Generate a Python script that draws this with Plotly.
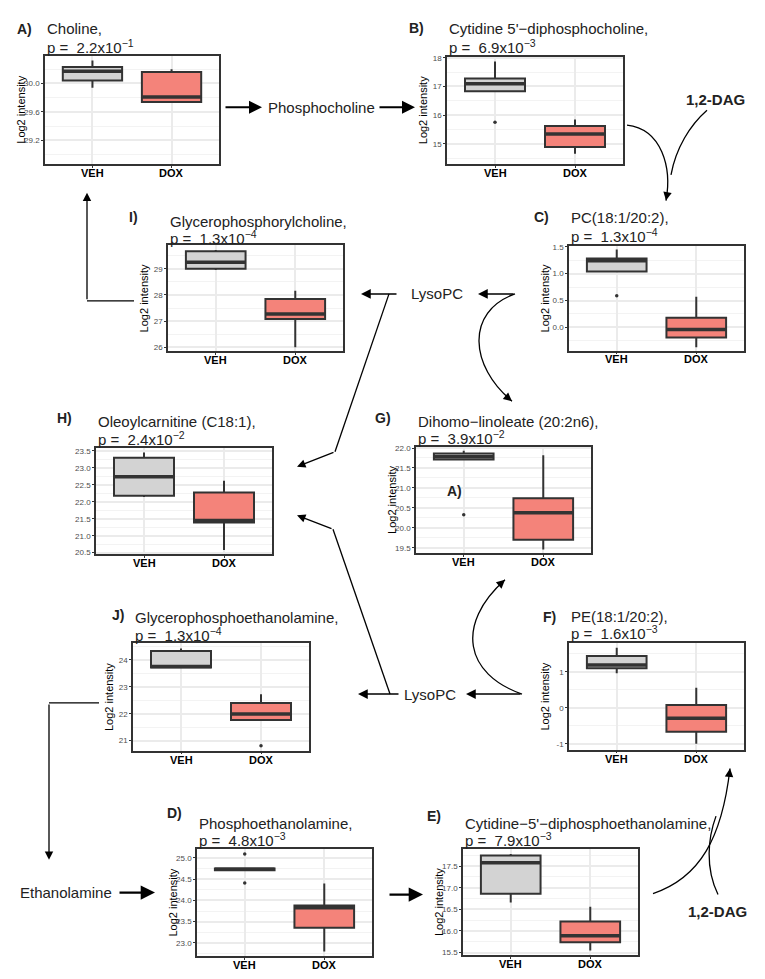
import plotly.graph_objects as go

W, H = 765, 979

# ---------------- data ----------------
groups = ["VEH", "DOX"]
tags = ["A)", "B)", "C)", "I)", "H)", "G)", "J)", "F)", "D)", "E)"]
metabolites = ["Choline,", "Cytidine 5'\u2212diphosphocholine,", "PC(18:1/20:2),",
               "Glycerophosphorylcholine,", "Oleoylcarnitine (C18:1),",
               "Dihomo\u2212linoleate (20:2n6),", "Glycerophosphoethanolamine,",
               "PE(18:1/20:2),", "Phosphoethanolamine,",
               "Cytidine\u22125'\u2212diphosphoethanolamine,"]
p_mant = [2.2, 6.9, 1.3, 1.3, 2.4, 3.9, 1.3, 1.6, 4.8, 7.9]
p_exp = [-1, -3, -4, -4, -2, -2, -4, -3, -3, -3]

veh_q1 = [30.04, 16.83, 1.04, 29.00, 22.18, 21.71, 23.72, 1.10, 24.71, 16.86]
veh_med = [30.17, 17.09, 1.24, 29.25, 22.74, 21.78, 23.75, 1.19, 24.73, 17.58]
veh_q3 = [30.23, 17.28, 1.28, 29.67, 23.30, 21.86, 24.33, 1.44, 24.75, 17.75]
veh_lo = [29.94, 16.83, 1.04, 28.95, 22.14, 21.71, 23.70, 0.96, 24.71, 16.66]
veh_hi = [30.32, 17.87, 1.45, 29.72, 23.45, 21.93, 24.42, 1.67, 24.75, 17.78]
veh_out = [[], [15.75], [0.59], [], [], [20.33], [], [], [25.09, 24.41], []]

dox_q1 = [29.74, 14.89, -0.19, 27.08, 21.39, 19.70, 21.77, -0.66, 23.36, 15.74]
dox_med = [29.81, 15.34, -0.04, 27.27, 21.45, 20.38, 21.99, -0.29, 23.83, 15.89]
dox_q3 = [30.16, 15.62, 0.18, 27.85, 22.27, 20.74, 22.40, 0.08, 23.88, 16.22]
dox_lo = [29.74, 14.65, -0.37, 26.00, 20.58, 19.46, 21.77, -1.00, 22.80, 15.55]
dox_hi = [30.20, 15.85, 0.57, 28.16, 22.62, 21.82, 22.72, 0.56, 24.40, 16.56]
dox_out = [[], [], [], [], [], [], [20.81], [], [], []]

y_ticks = [[29.2, 29.6, 30.0], [15, 16, 17, 18], [0.0, 0.5, 1.0, 1.5], [26, 27, 28, 29],
           [20.5, 21.0, 21.5, 22.0, 22.5, 23.0, 23.5], [19.5, 20.0, 20.5, 21.0, 21.5, 22.0],
           [21, 22, 23, 24], [-1, 0, 1], [23.0, 23.5, 24.0, 24.5, 25.0],
           [15.5, 16.0, 16.5, 17.0, 17.5]]
y_ranges = [[28.87, 30.39], [14.3, 18.04], [-0.43, 1.51], [25.84, 29.9], [20.46, 23.59],
            [19.37, 22.03], [20.63, 24.61], [-1.16, 1.79], [22.69, 25.21], [15.44, 17.9]]

# ---------------- layout (pixels) ----------------
boxes = [(45, 219, 52, 161), (447, 623, 53, 161), (569, 744, 244, 349), (168, 343, 243, 350),
         (96, 272, 447, 554), (416, 591, 446, 553), (133, 309, 644, 752), (569, 744, 644, 751),
         (197, 372, 851, 959), (463, 638, 851, 958)]
tag_pos = [(15, 25), (407, 24), (532, 215), (127, 215), (55, 417), (373, 417),
           (110, 615), (541, 617), (165, 815), (425, 818)]
title_y = [25, 25, 215, 219, 420, 420, 618, 617, 825, 825]
p_y = [43, 43, 233, 235, 438, 437, 635, 633, 842, 842]
no_ytitle = [4]

FONT = "Liberation Sans, Arial, sans-serif"
EDGE = "#333333"
fills = ["#D3D3D3", "#F4837A"]

fig = go.Figure()
annots = []
shapes = []

# invisible overlay axis in pixel units for the pathway drawing (added first, drawn below)
fig.add_trace(go.Scatter(x=[0], y=[0], mode="markers", marker=dict(opacity=0),
                         xaxis="x", yaxis="y", showlegend=False, hoverinfo="skip"))

for i in range(10):
    n = i + 2
    xr, yr = f"x{n}", f"y{n}"
    L, R, T, B = boxes[i]
    stats = [(veh_q1, veh_med, veh_q3, veh_lo, veh_hi, veh_out),
             (dox_q1, dox_med, dox_q3, dox_lo, dox_hi, dox_out)]
    for g, (q1, md, q3, lo, hi, out) in enumerate(stats):
        fig.add_trace(go.Box(x=[g], q1=[q1[i]], median=[md[i]], q3=[q3[i]],
                             lowerfence=[lo[i]], upperfence=[hi[i]],
                             width=0.75, whiskerwidth=0, boxpoints=False,
                             fillcolor=fills[g], line=dict(color=EDGE, width=2),
                             xaxis=xr, yaxis=yr, showlegend=False, hoverinfo="skip"))
        fig.add_trace(go.Scatter(x=[g - 0.375, g + 0.375], y=[md[i], md[i]], mode="lines",
                                 line=dict(color=EDGE, width=3.5), xaxis=xr, yaxis=yr,
                                 showlegend=False, hoverinfo="skip"))
        if out[i]:
            fig.add_trace(go.Scatter(x=[g] * len(out[i]), y=out[i], mode="markers",
                                     marker=dict(color=EDGE, size=3.5), xaxis=xr, yaxis=yr,
                                     showlegend=False, hoverinfo="skip"))
        # category label just under the panel frame
        annots.append(dict(x=g, y=1 - (B + 9) / H, xref=xr, yref="paper",
                           text=f"<b>{groups[g]}</b>", xanchor="center", yanchor="middle",
                           font=dict(size=11, color="black", family=FONT)))

    t = y_ticks[i]
    step = t[1] - t[0]
    minor = [t[0] - step / 2 + k * step for k in range(len(t) + 1)]
    fmt = "{:.1f}" if step < 1 else "{:.0f}"
    fig.update_layout(**{
        f"xaxis{n}": dict(
            domain=[L / W, R / W], anchor=yr, range=[-0.6, 1.6],
            tickvals=[0, 1], showticklabels=False,
            showgrid=True, gridcolor="#EBEBEB", gridwidth=1.5, zeroline=False,
            showline=True, mirror=True, linecolor=EDGE, linewidth=1.5,
            ticks="outside", ticklen=2, tickcolor=EDGE),
        f"yaxis{n}": dict(
            domain=[1 - B / H, 1 - T / H], anchor=xr, range=y_ranges[i],
            tickvals=t, ticktext=[fmt.format(v) for v in t],
            tickfont=dict(size=8, color="#4D4D4D", family=FONT),
            showgrid=True, gridcolor="#EBEBEB", gridwidth=1.5, zeroline=False,
            minor=dict(tickvals=minor, showgrid=True, gridcolor="#F3F3F3", gridwidth=1),
            showline=True, mirror=True, linecolor=EDGE, linewidth=1.5,
            ticks="outside", ticklen=2, tickcolor=EDGE),
    })

    tx, ty = tag_pos[i]
    annots.append(dict(x=tx, y=ty, text=f"<b>{tags[i]}</b>", xanchor="left", yanchor="middle",
                       font=dict(size=14, color="#222", family=FONT)))
    annots.append(dict(x=L, y=title_y[i], text=metabolites[i], xanchor="left", yanchor="middle",
                       font=dict(size=15, color="#222", family=FONT)))
    annots.append(dict(x=L, y=p_y[i],
                       text=f"p =  {p_mant[i]}x10<sup>\u2212{abs(p_exp[i])}</sup>",
                       xanchor="left", yanchor="middle", font=dict(size=15, color="#222", family=FONT)))
    if i not in no_ytitle:
        annots.append(dict(x=L - 24, y=(T + B) / 2, text="Log2 intensity", textangle=-90,
                           xanchor="center", yanchor="middle",
                           font=dict(size=11, color="black", family=FONT)))

# stray label inside panel G
annots.append(dict(x=445, y=490, text="<b>A)</b>", xanchor="left", yanchor="middle",
                   font=dict(size=14, color="#222", family=FONT)))

# pathway labels
for txt, x, y, bold in [("Phosphocholine", 321, 104, False), ("LysoPC", 437, 292, False),
                        ("LysoPC", 430, 695, False), ("Ethanolamine", 66, 895, False),
                        ("1,2-DAG", 715, 96, True), ("1,2-DAG", 717, 914, True)]:
    annots.append(dict(x=x, y=y, text=f"<b>{txt}</b>" if bold else txt,
                       xanchor="center", yanchor="middle",
                       font=dict(size=15, color="#222", family=FONT)))


def arrow(x0, y0, x1, y1, w=1.6):
    annots.append(dict(x=x1, y=y1, ax=x0, ay=y0, axref="x", ayref="y", text="",
                       showarrow=True, arrowhead=2, arrowsize=1.3, arrowwidth=w,
                       arrowcolor="black", standoff=0))


def line(pts, w=1.3):
    path = "M " + " L ".join(f"{x} {y}" for x, y in pts)
    shapes.append(dict(type="path", path=path, line=dict(color="black", width=w)))


def curve(p0, c1, c2, p3, head=True, w=1.3):
    shapes.append(dict(type="path",
                       path=f"M {p0[0]} {p0[1]} C {c1[0]} {c1[1]}, {c2[0]} {c2[1]}, {p3[0]} {p3[1]}",
                       line=dict(color="black", width=w)))
    if head:
        dx, dy = p3[0] - c2[0], p3[1] - c2[1]
        d = (dx * dx + dy * dy) ** 0.5
        arrow(p3[0] - 6 * dx / d, p3[1] - 6 * dy / d, p3[0], p3[1], w)


# top row
arrow(224, 104, 262, 104, 2)
arrow(378, 104, 415, 104, 2)
curve((627, 122), (662, 126), (672, 165), (666, 198))
curve((707, 107), (690, 122), (676, 145), (671, 172), head=False)
# I -> Choline
line([(134, 299), (87, 299)])
arrow(87, 299, 87, 190, 1.3)
# upper LysoPC
arrow(398, 292, 361, 292, 1.5)
line([(389, 292), (335, 451)])
arrow(335, 451, 297, 466, 1.3)
arrow(515, 292, 478, 292, 1.5)
curve((515, 292), (465, 310), (470, 365), (512, 400))
# lower LysoPC
arrow(400, 695, 358, 695, 1.5)
line([(390, 695), (333, 529)])
arrow(333, 529, 297, 515, 1.3)
arrow(522, 695, 466, 695, 1.5)
curve((522, 695), (465, 675), (455, 625), (505, 580))
# J -> Ethanolamine -> D -> E
line([(99, 704), (49, 704)])
arrow(49, 704, 49, 862, 1.3)
arrow(118, 895, 155, 895, 2.2)
arrow(388, 897, 423, 897, 2.2)
# E -> F with 1,2-DAG
curve((653, 896), (700, 880), (722, 840), (730, 770))
curve((718, 897), (705, 870), (708, 840), (716, 818), head=False)

for a in annots:
    a.setdefault("xref", "x")
    a.setdefault("yref", "y")
    a.setdefault("showarrow", False)
for s in shapes:
    s["xref"] = "x"
    s["yref"] = "y"
    s["layer"] = "above"

fig.update_layout(
    xaxis=dict(domain=[0, 1], range=[0, W], visible=False, anchor="y"),
    yaxis=dict(domain=[0, 1], range=[H, 0], visible=False, anchor="x"),
    annotations=annots, shapes=shapes,
    width=W, height=H, margin=dict(l=0, r=0, t=0, b=0),
    paper_bgcolor="white", plot_bgcolor="rgba(0,0,0,0)",
    font=dict(family=FONT), showlegend=False,
)

# page body has a default 8px margin; drop it so the figure fills the window exactly
fig.write_html("out.html", config={"displayModeBar": False},
               post_script="document.body.style.margin='0px';")
